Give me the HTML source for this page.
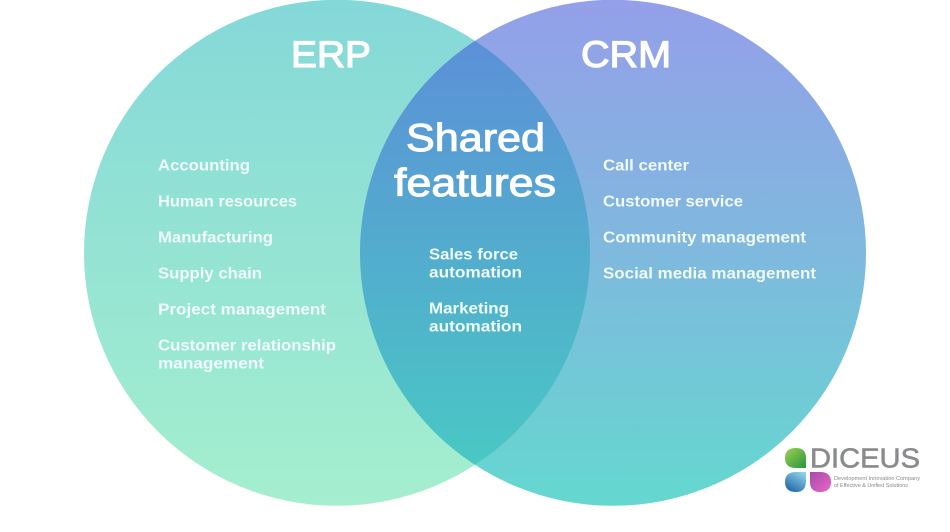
<!DOCTYPE html>
<html><head><meta charset="utf-8"><style>
html,body{margin:0;padding:0;background:#fff;width:950px;height:532px;overflow:hidden}
svg{display:block}
text{font-family:"Liberation Sans",sans-serif;fill:#fff}
.s{font-size:16px;font-weight:700;fill:#f0fafa}
.t{font-size:38.5px;font-weight:400;stroke:#fff;stroke-width:1px}
.h{font-size:37.5px;font-weight:400;stroke:#fff;stroke-width:1.2px}
</style></head><body>
<svg width="950" height="532" viewBox="0 0 950 532" xmlns="http://www.w3.org/2000/svg">
<defs>
<linearGradient id="l" x1="0" y1="0" x2="0" y2="1"><stop offset="0" stop-color="#84d8d8"/><stop offset="1" stop-color="#a5efcf"/></linearGradient>
<linearGradient id="r" x1="0" y1="0" x2="0" y2="1"><stop offset="0" stop-color="#949fe9"/><stop offset="0.5" stop-color="#7fb9de"/><stop offset="1" stop-color="#64d8cf"/></linearGradient>
<linearGradient id="m" gradientUnits="userSpaceOnUse" x1="0" y1="40" x2="0" y2="463"><stop offset="0" stop-color="#5c90d8"/><stop offset="1" stop-color="#49c8c4"/></linearGradient>
<clipPath id="c"><circle cx="337" cy="252.8" r="253"/></clipPath>
<linearGradient id="g1" x1="0" y1="0" x2="1" y2="1"><stop offset="0" stop-color="#9ad34f"/><stop offset="1" stop-color="#2a9440"/></linearGradient>
<linearGradient id="g2" x1="0.8" y1="0" x2="0.2" y2="1"><stop offset="0" stop-color="#8fd0ea"/><stop offset="1" stop-color="#1c66a4"/></linearGradient>
<linearGradient id="g3" x1="0" y1="0" x2="1" y2="1"><stop offset="0" stop-color="#a84aa8"/><stop offset="1" stop-color="#ea66c8"/></linearGradient>
</defs>
<circle cx="337" cy="252.8" r="253" fill="url(#l)"/>
<circle cx="613" cy="252.8" r="253" fill="url(#r)"/>
<circle cx="613" cy="252.8" r="253" fill="url(#m)" clip-path="url(#c)"/>

<text class="h" x="291" y="67" textLength="80" lengthAdjust="spacingAndGlyphs">ERP</text>
<text class="h" x="581" y="67" textLength="90" lengthAdjust="spacingAndGlyphs">CRM</text>
<text class="t" x="406" y="151" textLength="139" lengthAdjust="spacingAndGlyphs">Shared</text>
<text class="t" x="394" y="196" textLength="162" lengthAdjust="spacingAndGlyphs">features</text>

<text class="s" x="158" y="170.5" textLength="92" lengthAdjust="spacingAndGlyphs">Accounting</text>
<text class="s" x="158" y="206.5" textLength="139" lengthAdjust="spacingAndGlyphs">Human resources</text>
<text class="s" x="158" y="242.5" textLength="115" lengthAdjust="spacingAndGlyphs">Manufacturing</text>
<text class="s" x="158" y="278.5" textLength="104" lengthAdjust="spacingAndGlyphs">Supply chain</text>
<text class="s" x="158" y="314.5" textLength="168" lengthAdjust="spacingAndGlyphs">Project management</text>
<text class="s" x="158" y="350.5" textLength="178" lengthAdjust="spacingAndGlyphs">Customer relationship</text>
<text class="s" x="158" y="368.5" textLength="106" lengthAdjust="spacingAndGlyphs">management</text>

<text class="s" x="429" y="259.5" textLength="89" lengthAdjust="spacingAndGlyphs">Sales force</text>
<text class="s" x="429" y="277.5" textLength="93" lengthAdjust="spacingAndGlyphs">automation</text>
<text class="s" x="429" y="313.5" textLength="80" lengthAdjust="spacingAndGlyphs">Marketing</text>
<text class="s" x="429" y="331.5" textLength="93" lengthAdjust="spacingAndGlyphs">automation</text>

<text class="s" x="603" y="170.5" textLength="86" lengthAdjust="spacingAndGlyphs">Call center</text>
<text class="s" x="603" y="206.5" textLength="140" lengthAdjust="spacingAndGlyphs">Customer service</text>
<text class="s" x="603" y="242.5" textLength="203" lengthAdjust="spacingAndGlyphs">Community management</text>
<text class="s" x="603" y="278.5" textLength="213" lengthAdjust="spacingAndGlyphs">Social media management</text>

<path d="M806 468H796Q785 468 785 458Q785 448 796 448Q806 448 806 458Z" fill="url(#g1)"/>
<path d="M806 472V481Q806 492 796 492Q785 492 785 482Q785 472 796 472Z" fill="url(#g2)"/>
<path d="M810 472H820Q831 472 831 482Q831 492 820 492Q810 492 810 482Z" fill="url(#g3)"/>
<text x="810" y="467.5" style="font-size:28px;fill:#8a8b8d;stroke:#8a8b8d;stroke-width:.6px" textLength="110" lengthAdjust="spacingAndGlyphs">DICEUS</text>
<text x="834" y="480" style="font-size:5.2px;fill:#888" textLength="86" lengthAdjust="spacingAndGlyphs">Development Innovation Company</text>
<text x="834" y="487" style="font-size:5.2px;fill:#888" textLength="74" lengthAdjust="spacingAndGlyphs">of Effective &amp; Unified Solutions</text>
</svg>
</body></html>
